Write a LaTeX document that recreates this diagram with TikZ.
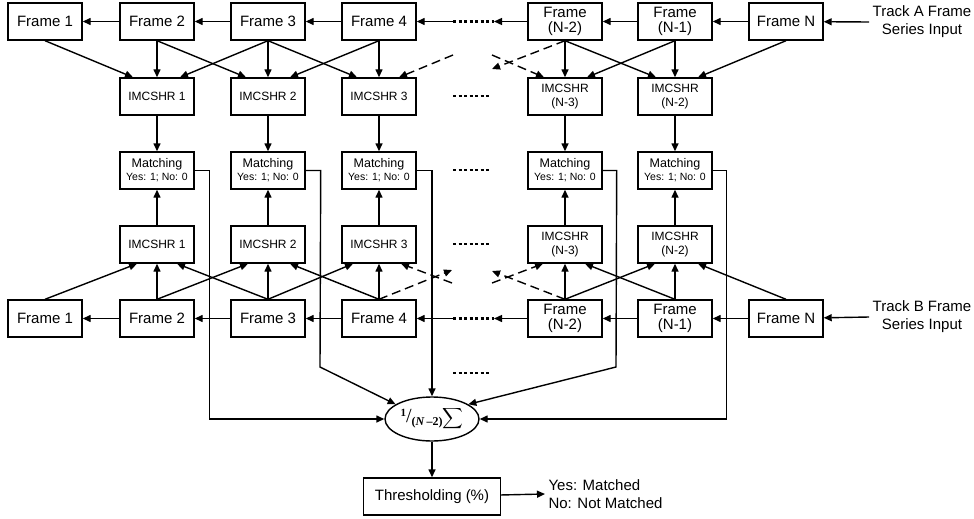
\documentclass[tikz,border=0pt]{standalone}
\usepackage{fontspec}
\setmainfont{Liberation Sans}
\newfontfamily\serifsum{Liberation Serif}
\usepackage{amsmath}
\usetikzlibrary{arrows.meta,shapes.geometric}
\tikzset{
  block/.style = {draw, line width=1.4pt, minimum width=74pt, minimum height=37pt,
                  inner sep=1pt, align=center, font=\fontsize{15}{15}\selectfont},
  hrblock/.style = {block, font=\fontsize{12}{14}\selectfont},
  matchblock/.style = {block, font=\fontsize{12.5}{13}\selectfont},
  link/.style = {line width=1.4pt, -{Triangle[length=8pt,width=7pt]}},
  dashlink/.style = {link, dash pattern=on 9pt off 5pt},
  dotrow/.style = {line width=2.2pt, dash pattern=on 3pt off 2.5pt}
}
\newcommand{\yesno}{{\fontsize{10.5}{11}\selectfont Yes: 1; No: 0}}
\newcommand{\sumlabel}{\serifsum
  \raisebox{6pt}{\fontsize{11}{11}\selectfont\bfseries 1}%
  {\fontsize{20}{20}\selectfont/}%
  \raisebox{-3pt}{\fontsize{12}{12}\selectfont\bfseries(\textit{N}\,\textendash2)}%
  {\fontsize{15}{15}\selectfont$\displaystyle\sum$}}

\begin{document}
\begin{tikzpicture}[x=1pt, y=-1pt]
  \useasboundingbox (0,0) rectangle (974,519);

  % track A frames
  \node [block] (fa1)  at ( 45, 21.5) {Frame 1};
  \node [block] (fa2)  at (157, 21.5) {Frame 2};
  \node [block] (fa3)  at (268, 21.5) {Frame 3};
  \node [block] (fa4)  at (379, 21.5) {Frame 4};
  \node [block] (fan2) at (565, 21.5) {Frame\\(N-2)};
  \node [block] (fan1) at (675, 21.5) {Frame\\(N-1)};
  \node [block] (fan)  at (786, 21.5) {Frame N};
  \node [align=center, font=\fontsize{15}{18}\selectfont] (tra) at (922, 22) {Track A Frame\\Series Input};

  % track A histograms
  \node [hrblock] (ia1)  at (157, 96.5) {IMCSHR 1};
  \node [hrblock] (ia2)  at (268, 96.5) {IMCSHR 2};
  \node [hrblock] (ia3)  at (379, 96.5) {IMCSHR 3};
  \node [hrblock] (ian3) at (565, 96.5) {IMCSHR\\(N-3)};
  \node [hrblock] (ian2) at (675, 96.5) {IMCSHR\\(N-2)};

  % matching
  \node [matchblock] (m1)  at (157, 170.5) {Matching\\\yesno};
  \node [matchblock] (m2)  at (268, 170.5) {Matching\\\yesno};
  \node [matchblock] (m3)  at (379, 170.5) {Matching\\\yesno};
  \node [matchblock] (mn3) at (565, 170.5) {Matching\\\yesno};
  \node [matchblock] (mn2) at (675, 170.5) {Matching\\\yesno};

  % track B histograms
  \node [hrblock] (ib1)  at (157, 244.5) {IMCSHR 1};
  \node [hrblock] (ib2)  at (268, 244.5) {IMCSHR 2};
  \node [hrblock] (ib3)  at (379, 244.5) {IMCSHR 3};
  \node [hrblock] (ibn3) at (565, 244.5) {IMCSHR\\(N-3)};
  \node [hrblock] (ibn2) at (675, 244.5) {IMCSHR\\(N-2)};

  % track B frames
  \node [block] (fb1)  at ( 45, 318.5) {Frame 1};
  \node [block] (fb2)  at (157, 318.5) {Frame 2};
  \node [block] (fb3)  at (268, 318.5) {Frame 3};
  \node [block] (fb4)  at (379, 318.5) {Frame 4};
  \node [block] (fbn2) at (565, 318.5) {Frame\\(N-2)};
  \node [block] (fbn1) at (675, 318.5) {Frame\\(N-1)};
  \node [block] (fbn)  at (786, 318.5) {Frame N};
  \node [align=center, font=\fontsize{15}{18}\selectfont] (trb) at (922, 317) {Track B Frame\\Series Input};

  % sum and threshold
  \node [draw, ellipse, line width=1.4pt, minimum width=94pt, minimum height=44pt, inner sep=0pt] (sum) at (432, 419) {\sumlabel};
  \node [block, minimum width=137pt] (thr) at (432, 496.5) {Thresholding (\%)};
  \node [align=left, anchor=west, font=\fontsize{15}{18}\selectfont] (res) at (545, 494) {Yes: Matched\\No: Not Matched};

  % free ends
  \coordinate (ta1) at (453, 21.5);  \coordinate (ta2) at (494, 21.5);
  \coordinate (tb1) at (453, 318.5); \coordinate (tb2) at (494, 318.5);
  \coordinate (dl1) at (453, 55);    \coordinate (dr1) at (492, 69);
  \coordinate (dr2) at (492, 55);
  \coordinate (dl2) at (452, 270);   \coordinate (dl3) at (452, 283);
  \coordinate (dr3) at (492, 271);   \coordinate (dr4) at (492, 283);
  \coordinate (k2) at (320, 367);    \coordinate (kn3) at (616, 367);

  % frame chains
  \draw [link] (fa2) -- (fa1);
  \draw [link] (fa3) -- (fa2);
  \draw [link] (fa4) -- (fa3);
  \draw [link] (ta1) -- (fa4);
  \draw [dotrow] (ta1) -- (ta2);
  \draw [link] (fan2) -- (ta2);
  \draw [link] (fan1) -- (fan2);
  \draw [link] (fan) -- (fan1);
  \draw [link] (tra.west) -- (fan);

  \draw [link] (fb2) -- (fb1);
  \draw [link] (fb3) -- (fb2);
  \draw [link] (fb4) -- (fb3);
  \draw [link] (tb1) -- (fb4);
  \draw [dotrow] (tb1) -- (tb2);
  \draw [link] (fbn2) -- (tb2);
  \draw [link] (fbn1) -- (fbn2);
  \draw [link] (fbn) -- (fbn1);
  \draw [link] (trb.west) -- (fbn);

  % track A frames to histograms
  \draw [link] (fa1.south) -- ([xshift=-24pt]ia1.north);
  \draw [link] (fa2.south) -- (ia1.north);
  \draw [link] (fa2.south) -- ([xshift=-22pt]ia2.north);
  \draw [link] (fa3.south) -- ([xshift=23pt]ia1.north);
  \draw [link] (fa3.south) -- (ia2.north);
  \draw [link] (fa3.south) -- ([xshift=-22pt]ia3.north);
  \draw [link] (fa4.south) -- ([xshift=22pt]ia2.north);
  \draw [link] (fa4.south) -- (ia3.north);
  \draw [dashlink] (dl1) -- ([xshift=20pt]ia3.north);
  \draw [dashlink] (fan2.south) -- (dr1);
  \draw [dashlink] (dr2) -- ([xshift=-21pt]ian3.north);
  \draw [link] (fan2.south) -- (ian3.north);
  \draw [link] (fan2.south) -- ([xshift=-19pt]ian2.north);
  \draw [link] (fan1.south) -- ([xshift=22pt]ian3.north);
  \draw [link] (fan1.south) -- (ian2.north);
  \draw [link] (fan.south) -- ([xshift=23pt]ian2.north);

  % track B frames to histograms
  \draw [link] (fb1.north) -- ([xshift=-20pt]ib1.south);
  \draw [link] (fb2.north) -- (ib1.south);
  \draw [link] (fb2.north) -- ([xshift=-20pt]ib2.south);
  \draw [link] (fb3.north) -- ([xshift=20pt]ib1.south);
  \draw [link] (fb3.north) -- (ib2.south);
  \draw [link] (fb3.north) -- ([xshift=-26pt]ib3.south);
  \draw [link] (fb4.north) -- ([xshift=22pt]ib2.south);
  \draw [link] (fb4.north) -- (ib3.south);
  \draw [dashlink] (fb4.north) -- (dl2);
  \draw [dashlink] (dl3) -- ([xshift=22pt]ib3.south);
  \draw [dashlink] (fbn2.north) -- (dr3);
  \draw [dashlink] (dr4) -- ([xshift=-22pt]ibn3.south);
  \draw [link] (fbn2.north) -- (ibn3.south);
  \draw [link] (fbn2.north) -- ([xshift=-20pt]ibn2.south);
  \draw [link] (fbn1.north) -- ([xshift=20pt]ibn3.south);
  \draw [link] (fbn1.north) -- (ibn2.south);
  \draw [link] (fbn.north) -- ([xshift=23pt]ibn2.south);

  % histograms to matching
  \draw [link] (ia1) -- (m1);
  \draw [link] (ia2) -- (m2);
  \draw [link] (ia3) -- (m3);
  \draw [link] (ian3) -- (mn3);
  \draw [link] (ian2) -- (mn2);
  \draw [link] (ib1) -- (m1);
  \draw [link] (ib2) -- (m2);
  \draw [link] (ib3) -- (m3);
  \draw [link] (ibn3) -- (mn3);
  \draw [link] (ibn2) -- (mn2);

  % continuation dots
  \draw [dotrow] (453, 96)  -- (490, 96);
  \draw [dotrow] (453, 170) -- (490, 170);
  \draw [dotrow] (453, 244) -- (490, 244);
  \draw [dotrow] (453, 373) -- (490, 373);

  % matching to sum
  \draw [link] (m1.east) -- ++(15,0) |- (sum.west);
  \draw [link] (m2.east) -- ++(15,0) -- (k2) -- (sum.158);
  \draw [link] (m3.east) -| (sum.north);
  \draw [link] (mn3.east) -- ++(14,0) -- (kn3) -- (sum.22);
  \draw [link] (mn2.east) -- ++(14,0) |- (sum.east);

  \draw [link] (sum) -- (thr);
  \draw [link] (thr) -- (res.west);
\end{tikzpicture}
\end{document}
